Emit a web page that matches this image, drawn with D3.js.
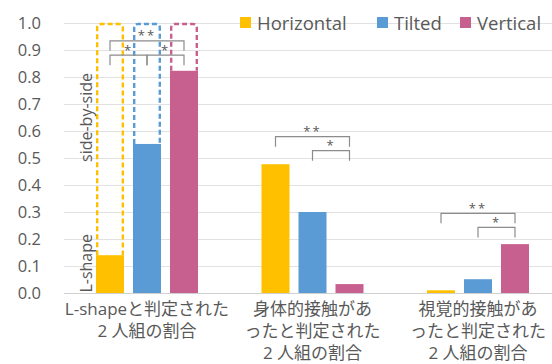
<!DOCTYPE html>
<html><head><meta charset="utf-8">
<script src="https://cdn.jsdelivr.net/npm/d3@7/dist/d3.min.js"></script>
<style>
html,body{margin:0;padding:0;background:#fff;}
svg{display:block;}
text{font-family:"Open Sans","Noto Sans CJK JP",sans-serif;fill:#595959;}
</style></head><body>
<svg id="c" width="552" height="364"></svg>
<script>
const groups = ["g1","g2","g3"];
const groupLabels = [
  ["L-shapeと判定された","2 人組の割合"],
  ["身体的接触があ","ったと判定された","2 人組の割合"],
  ["視覚的接触があ","ったと判定された","2 人組の割合"]
];
const series = ["Horizontal","Tilted","Vertical"];
const colors = ["#FFC000","#5B9BD5","#C8608F"];
const horizontal = [0.14, 0.477, 0.01];
const tilted = [0.552, 0.30, 0.051];
const vertical = [0.823, 0.033, 0.181];
const yTicks = [0,0.1,0.2,0.3,0.4,0.5,0.6,0.7,0.8,0.9,1.0];
// significance brackets: group index, from series, to series, bracket level value, label
const sigGroup = [0,0,0,1,1,2,2];
const sigFrom  = [0,0,1,0,1,0,1];
const sigTo    = [2,1,2,2,2,2,2];
const sigY     = [0.934,0.881,0.881,0.579,0.527,0.295,0.243];
const sigLabel = ["**","*","*","**","*","**","*"];

const values = [horizontal, tilted, vertical];
const svg = d3.select("#c");

const y = d3.scaleLinear().domain([0,1]).range([293,23]);
const x0 = d3.scaleBand().domain(groups).range([64.25,560.75]).paddingInner(0);
const x1 = d3.scaleBand().domain(series).range([0,x0.bandwidth()]).paddingInner(0.243).paddingOuter(0.858);

// gridlines
svg.append("g").selectAll("line").data(yTicks).join("line")
  .attr("x1",64).attr("x2",552)
  .attr("y1",d=>Math.round(y(d))+0.5).attr("y2",d=>Math.round(y(d))+0.5)
  .attr("stroke",d=>d===0?"#d0d0d0":"#e2e2e2").attr("stroke-width",1);

// y axis labels
const yAxis = d3.axisLeft(y).tickValues(yTicks).tickFormat(d3.format(".1f")).tickSize(0).tickPadding(0);
const ya = svg.append("g").attr("transform","translate(41,0)").call(yAxis);
ya.select(".domain").remove();
ya.selectAll("text").attr("font-size",16.5).attr("fill","#595959")
  .style("font-family","'Open Sans',sans-serif");

// bars
series.forEach((s,si)=>{
  svg.append("g").selectAll("rect").data(groups).join("rect")
    .attr("x",(g)=>x0(g)+x1(s))
    .attr("y",(g,gi)=>y(values[si][gi]))
    .attr("width",x1.bandwidth())
    .attr("height",(g,gi)=>y(0)-y(values[si][gi]))
    .attr("fill",colors[si]);
});

// dashed outlines for group 1 (remaining part up to 1.0)
series.forEach((s,si)=>{
  const xl = x0(groups[0])+x1(s)+1.2, xr = xl + x1.bandwidth()-2.4;
  const yb = y(values[si][0]), yt = y(1)+1, r=4;
  const p = d3.path();
  p.moveTo(xl,yb); p.lineTo(xl,yt+r); p.quadraticCurveTo(xl,yt,xl+r,yt);
  p.lineTo(xr-r,yt); p.quadraticCurveTo(xr,yt,xr,yt+r); p.lineTo(xr,yb);
  svg.append("path").attr("d",p.toString()).attr("fill","none")
    .attr("stroke",colors[si]).attr("stroke-width",2.4).attr("stroke-dasharray","5,3");
});

// brackets
const bg = svg.append("g");
sigGroup.forEach((gi,i)=>{
  const g = groups[gi];
  const xa = x0(g)+x1(series[sigFrom[i]])+x1.bandwidth()/2;
  const xb = x0(g)+x1(series[sigTo[i]])+x1.bandwidth()/2;
  const yy = y(sigY[i]);
  bg.append("path").attr("d",`M${xa},${yy+10}V${yy}H${xb}V${yy+10}`)
    .attr("fill","none").attr("stroke","#8c8c8c").attr("stroke-width",1.2);
  bg.append("text").attr("x",(xa+xb)/2).attr("y",yy-0.5).attr("text-anchor","middle")
    .attr("font-size",13).attr("fill","#7f7f7f").attr("letter-spacing",2).text(sigLabel[i]);
});

// rotated labels
svg.append("text").attr("transform",`translate(92,${(y(0.82)+y(0.48))/2}) rotate(-90)`)
  .attr("text-anchor","middle").attr("font-size",16).text("side-by-side");
svg.append("text").attr("transform",`translate(92,${(y(0.22)+y(0))/2}) rotate(-90)`)
  .attr("text-anchor","middle").attr("font-size",16).text("L-shape");

// x labels
groups.forEach((g,gi)=>{
  const t = svg.append("text").attr("text-anchor","middle").attr("font-size",17)
    .style("font-family","'Open Sans','Noto Sans CJK JP',sans-serif");
  groupLabels[gi].forEach((line,li)=>{
    t.append("tspan").attr("x",x0(g)+x0.bandwidth()/2).attr("y",315+li*22).text(line);
  });
});

// legend
const lx = [240,377,460];
series.forEach((s,si)=>{
  svg.append("rect").attr("x",lx[si]).attr("y",17).attr("width",11).attr("height",11).attr("fill",colors[si]);
  svg.append("text").attr("x",lx[si]+17).attr("y",29.5).attr("font-size",18.5).text(s);
});
</script></body></html>
